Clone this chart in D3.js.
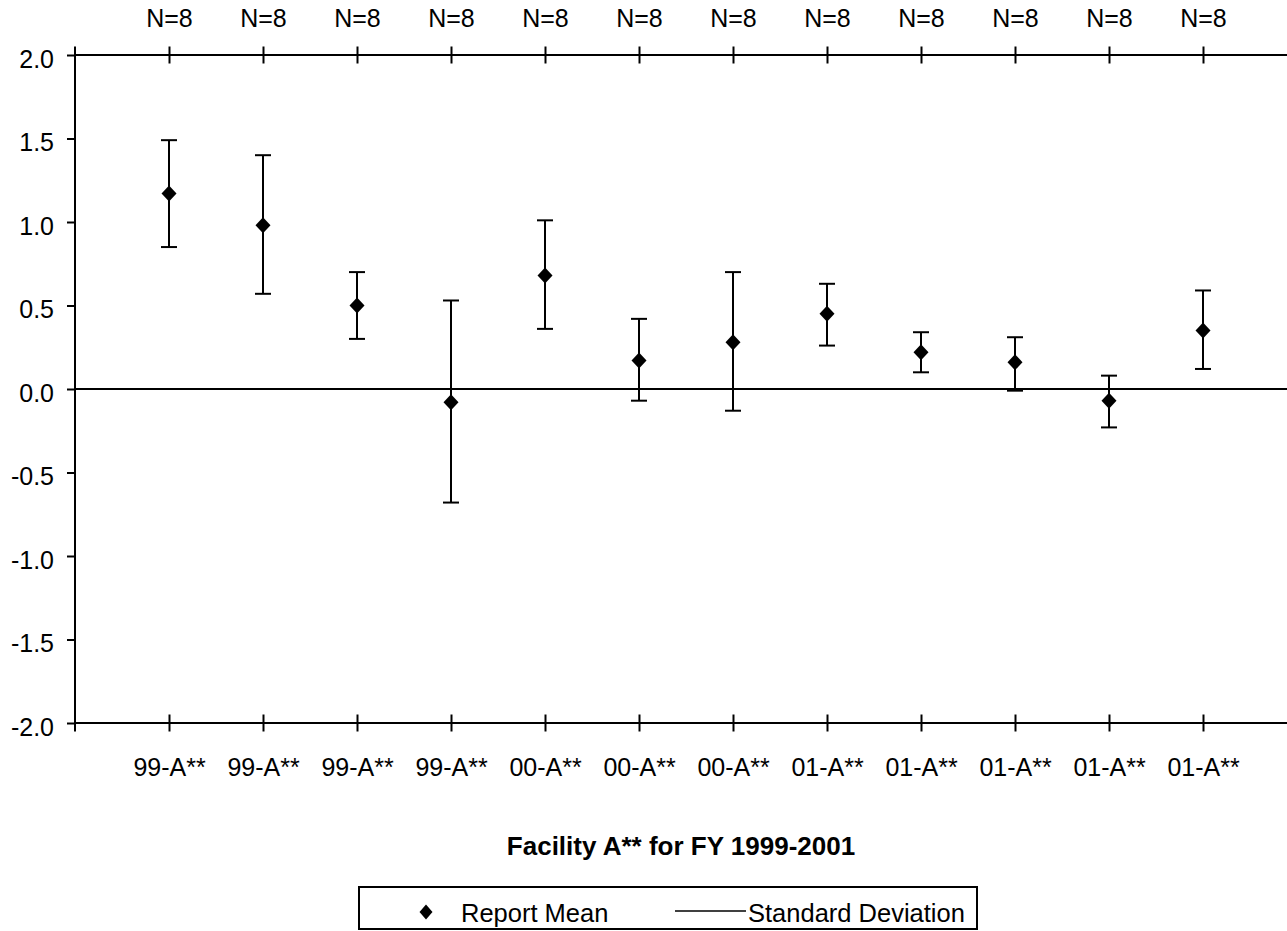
<!DOCTYPE html>
<html>
<head>
<meta charset="utf-8">
<script src="https://cdn.jsdelivr.net/npm/d3@7"></script>
<style>
  html, body { margin: 0; padding: 0; background: #fff; }
  svg { display: block; }
  text { font-family: "Liberation Sans", Arial, sans-serif; fill: #000; }
</style>
</head>
<body>
<svg id="chart" width="1287" height="931"></svg>
<script>
// ---- data ----
const categories = ["99-A**","99-A**","99-A**","99-A**","00-A**","00-A**","00-A**","01-A**","01-A**","01-A**","01-A**","01-A**"];
const nLabels = ["N=8","N=8","N=8","N=8","N=8","N=8","N=8","N=8","N=8","N=8","N=8","N=8"];
const means   = [1.17, 0.98, 0.50, -0.08, 0.68, 0.17, 0.28, 0.45, 0.22, 0.16, -0.07, 0.35];
const sdUpper = [1.49, 1.40, 0.70, 0.53, 1.01, 0.42, 0.70, 0.63, 0.34, 0.31, 0.08, 0.59];
const sdLower = [0.85, 0.57, 0.30, -0.68, 0.36, -0.07, -0.13, 0.26, 0.10, -0.01, -0.23, 0.12];
const yTicks  = [-2.0, -1.5, -1.0, -0.5, 0.0, 0.5, 1.0, 1.5, 2.0];
const title = "Facility A** for FY 1999-2001";
const legendLabels = ["Report Mean", "Standard Deviation"];

(function () {
// ---- layout ----
const svg = d3.select("#chart");
const mLeft = 75, mRight = 1297, mTop = 55, mBottom = 723;
const idx = d3.range(categories.length);

const x = d3.scalePoint().domain(idx).range([mLeft, mRight]).padding(1);
const y = d3.scaleLinear().domain([-2, 2]).range([mBottom, mTop]);

const sw = 2;
const ff = '"Liberation Sans", Arial, sans-serif';

// Y axis
const yAxis = svg.append("g").attr("transform", `translate(${mLeft},0)`)
  .call(d3.axisLeft(y).tickValues(yTicks).tickFormat(d => d.toFixed(1)).tickSizeInner(8).tickSizeOuter(0).tickPadding(13));
yAxis.select(".domain").remove();
yAxis.selectAll(".tick line").attr("stroke", "#000").attr("stroke-width", sw);
yAxis.selectAll(".tick text").attr("font-size", 25).attr("dy", "0.48em").style("font-family", ff);
yAxis.append("line").attr("x1", 0).attr("x2", 0).attr("y1", mTop - 8.5).attr("y2", mBottom + 8.5)
  .attr("stroke", "#000").attr("stroke-width", sw);

// Zero line
svg.append("line").attr("x1", mLeft).attr("x2", mRight).attr("y1", y(0)).attr("y2", y(0))
  .attr("stroke", "#000").attr("stroke-width", sw);

// Bottom axis
const xb = svg.append("g").attr("transform", `translate(0,${mBottom})`)
  .call(d3.axisBottom(x).tickFormat(i => categories[i]).tickSizeInner(8).tickSizeOuter(0).tickPadding(27));
xb.select(".domain").attr("d", `M${mLeft},0H${mRight}`).attr("stroke", "#000").attr("stroke-width", sw);
xb.selectAll(".tick line").attr("y1", -8.5).attr("y2", 8.5).attr("stroke", "#000").attr("stroke-width", sw);
xb.selectAll(".tick text").attr("font-size", 25).style("font-family", ff);

// Top axis
const xt = svg.append("g").attr("transform", `translate(0,${mTop})`)
  .call(d3.axisTop(x).tickFormat(i => nLabels[i]).tickSizeInner(8).tickSizeOuter(0).tickPadding(20));
xt.select(".domain").attr("d", `M${mLeft},0H${mRight}`).attr("stroke", "#000").attr("stroke-width", sw);
xt.selectAll(".tick line").attr("y1", -8.5).attr("y2", 8.5).attr("stroke", "#000").attr("stroke-width", sw);
xt.selectAll(".tick text").attr("font-size", 25).style("font-family", ff);

// Error bars
const capHalf = 8;
const eb = svg.append("g").selectAll("g").data(idx).join("g");
eb.append("line").attr("x1", i => x(i)).attr("x2", i => x(i))
  .attr("y1", i => y(sdUpper[i])).attr("y2", i => y(sdLower[i]))
  .attr("stroke", "#000").attr("stroke-width", sw);
eb.append("line").attr("x1", i => x(i) - capHalf).attr("x2", i => x(i) + capHalf)
  .attr("y1", i => y(sdUpper[i])).attr("y2", i => y(sdUpper[i]))
  .attr("stroke", "#000").attr("stroke-width", sw);
eb.append("line").attr("x1", i => x(i) - capHalf).attr("x2", i => x(i) + capHalf)
  .attr("y1", i => y(sdLower[i])).attr("y2", i => y(sdLower[i]))
  .attr("stroke", "#000").attr("stroke-width", sw);

// Diamonds
const diamond = (w, h) => `M0,${-h}L${w},0L0,${h}L${-w},0Z`;
svg.append("g").selectAll("path").data(idx).join("path")
  .attr("d", diamond(7.5, 8))
  .attr("transform", i => `translate(${x(i)},${y(means[i])})`)
  .attr("fill", "#000");

// Title (centred on the plot area)
svg.append("text").attr("x", (mLeft + 1287) / 2).attr("y", 855).attr("text-anchor", "middle")
  .attr("font-size", 26).attr("font-weight", "bold").text(title);

// Legend
const lg = svg.append("g");
lg.append("rect").attr("x", 359).attr("y", 887).attr("width", 618).attr("height", 42)
  .attr("fill", "none").attr("stroke", "#000").attr("stroke-width", sw);
lg.append("path").attr("d", diamond(6.5, 7.5)).attr("transform", "translate(426,912)").attr("fill", "#000");
lg.append("text").attr("x", 461).attr("y", 922).attr("font-size", 25.5).text(legendLabels[0]);
lg.append("line").attr("x1", 675).attr("x2", 746).attr("y1", 911).attr("y2", 911)
  .attr("stroke", "#000").attr("stroke-width", 1.5);
lg.append("text").attr("x", 748).attr("y", 922).attr("font-size", 25.5).text(legendLabels[1]);
})();
</script>
</body>
</html>
